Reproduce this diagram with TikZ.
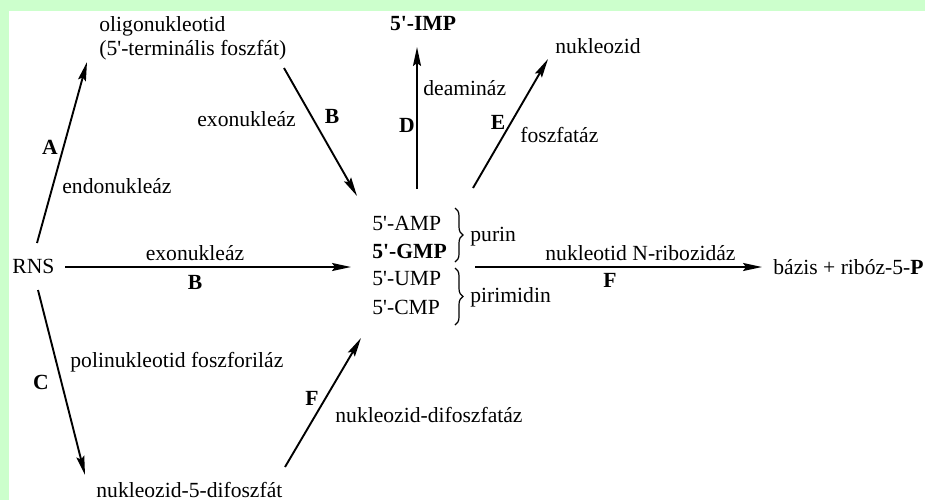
\documentclass[tikz,border=0pt]{standalone}
\usepackage{fontspec}
\setmainfont{Liberation Serif}
\usetikzlibrary{arrows.meta,decorations.pathreplacing}
\definecolor{bggreen}{RGB}{204,255,204}
\newcommand{\ap}{\textquotesingle}

\begin{document}
\begin{tikzpicture}
  [%%%%%%%%%%%%%%%%%%%%%%%%%%%%%%
  x=0.5pt,y=-0.5pt,
  txt/.style={inner sep=0pt,font=\fontsize{10.8}{12}\selectfont},
  lett/.style={inner sep=0pt,font=\fontsize{10.8}{12}\selectfont\bfseries},
  arr/.style={-{Stealth[length=9.5pt,width=4pt,inset=1.5pt]},line width=0.95pt},
  brc/.style={decorate,decoration={brace,amplitude=4pt},line width=0.6pt},
  ]%%%%%%%%%%%%%%%%%%%%%%%%%%%%%%

  \fill[bggreen] (0,0) rectangle (925,500);
  \fill[white] (9,11) rectangle (925,500);

  % compounds
  \node[txt,anchor=west] (rns) at (12,266) {RNS};
  \node[txt,anchor=west,align=left] (oligo) at (99,38) {oligonukleotid\\(5\ap-terminális foszfát)};
  \node[txt,anchor=west] (amp) at (372,223) {5\ap-AMP};
  \node[lett,anchor=west] (gmp) at (372,251) {5\ap-GMP};
  \node[txt,anchor=west] (ump) at (372,279) {5\ap-UMP};
  \node[txt,anchor=west] (cmp) at (372,307) {5\ap-CMP};
  \node[lett] (imp) at (423,24) {5\ap-IMP};
  \node[txt,anchor=west] (nukl) at (555,46) {nukleozid};
  \node[txt,anchor=west] (bazis) at (773,267) {bázis + ribóz-5-\textbf{P}};
  \node[txt,anchor=west] (ndp) at (96,490) {nukleozid-5-difoszfát};

  \draw[brc] (455,208) -- (455,262);
  \draw[brc] (455,268) -- (455,325);
  \node[txt,anchor=west] (purin) at (470,237) {purin};
  \node[txt,anchor=west] (pirim) at (470,297) {pirimidin};

  % arrow ends
  \coordinate (a0) at (37,243);  \coordinate (a1) at (87,62);
  \coordinate (b0) at (284,68);  \coordinate (b1) at (357,196);
  \coordinate (c0) at (65,267);  \coordinate (c1) at (351,267);
  \coordinate (d0) at (38,290);  \coordinate (d1) at (85,475);
  \coordinate (e0) at (285,467); \coordinate (e1) at (361,338);
  \coordinate (f0) at (417,189); \coordinate (f1) at (417,47);
  \coordinate (g0) at (473,188); \coordinate (g1) at (548,59);
  \coordinate (h0) at (475,267); \coordinate (h1) at (762,267);

  \draw[arr] (a0) -- (a1);
  \draw[arr] (b0) -- (b1);
  \draw[arr] (c0) -- (c1);
  \draw[arr] (d0) -- (d1);
  \draw[arr] (e0) -- (e1);
  \draw[arr] (f0) -- (f1);
  \draw[arr] (g0) -- (g1);
  \draw[arr] (h0) -- (h1);

  % enzymes
  \node[lett] (la) at (50,147) {A};
  \node[txt,anchor=west] (endo) at (62,186) {endonukleáz};
  \node[lett] (lb1) at (332,116) {B};
  \node[txt,anchor=west] (exo1) at (197,119) {exonukleáz};
  \node[txt] (exo2) at (195,253) {exonukleáz};
  \node[lett] (lb2) at (195,282) {B};
  \node[lett] (lc) at (41,382) {C};
  \node[txt,anchor=west] (polin) at (70,362) {polinukleotid foszforiláz};
  \node[lett] (lf1) at (312,398) {F};
  \node[txt,anchor=west] (ndpase) at (335,415) {nukleozid-difoszfatáz};
  \node[lett] (ld) at (407,125) {D};
  \node[txt,anchor=west] (deam) at (423,88) {deamináz};
  \node[lett] (le) at (498,122) {E};
  \node[txt,anchor=west] (foszf) at (520,135) {foszfatáz};
  \node[txt,anchor=west] (ribo) at (545,253) {nukleotid N-ribozidáz};
  \node[lett] (lf2) at (610,280) {F};
\end{tikzpicture}
\end{document}
